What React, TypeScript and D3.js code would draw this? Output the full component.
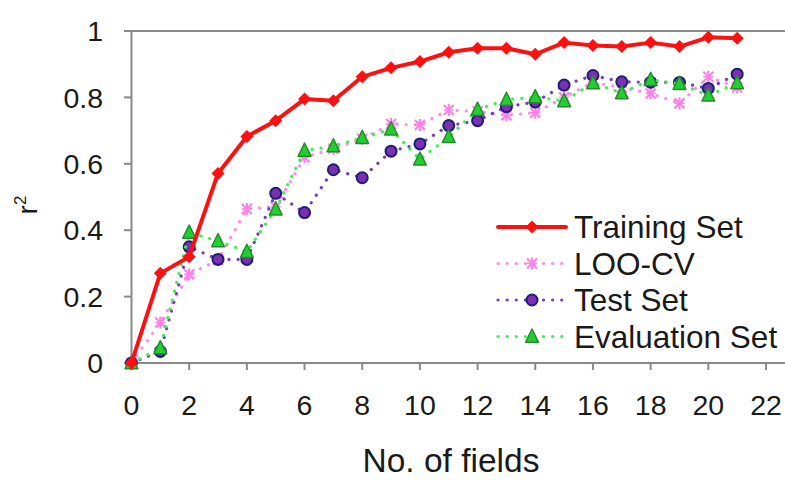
import React from "react";
import * as d3 from "d3";

const fields = d3.range(0, 22);
const training = [0, 0.27, 0.32, 0.571, 0.682, 0.73, 0.795, 0.79, 0.862, 0.889, 0.908, 0.936, 0.948, 0.948, 0.93, 0.965, 0.956, 0.953, 0.965, 0.953, 0.981, 0.978];
const loocv = [0, 0.122, 0.267, 0.31, 0.464, 0.47, 0.62, 0.645, 0.675, 0.72, 0.717, 0.762, 0.758, 0.746, 0.754, 0.8, 0.845, 0.83, 0.812, 0.782, 0.862, 0.83];
const testSet = [0, 0.035, 0.35, 0.312, 0.312, 0.511, 0.453, 0.582, 0.558, 0.638, 0.66, 0.715, 0.73, 0.772, 0.786, 0.837, 0.866, 0.847, 0.846, 0.845, 0.827, 0.87];
const evalSet = [0, 0.045, 0.393, 0.367, 0.335, 0.463, 0.64, 0.653, 0.678, 0.704, 0.613, 0.681, 0.763, 0.793, 0.801, 0.789, 0.843, 0.813, 0.853, 0.841, 0.806, 0.843];
const xTicks = d3.range(0, 23, 2);
const yTicks = [0, 0.2, 0.4, 0.6, 0.8, 1];
const legendLabels = ["Training Set", "LOO-CV", "Test Set", "Evaluation Set"];

const W = 785, H = 480;
const x = d3.scaleLinear().domain([0, 22]).range([131.5, 766]);
const y = d3.scaleLinear().domain([0, 1]).range([363, 31]);
const font = "'Liberation Sans', Arial, sans-serif";
const textCol = "#1a1a1a";
const axisCol = "#8a8a8a";

type Kind = "diamond" | "star" | "circle" | "triangle";
interface Series { name: string; values: number[]; color: string; width: number; dash: string | null; kind: Kind; }

const series: Series[] = [
  { name: legendLabels[1], values: loocv, color: "#ff8ce8", width: 3.2, dash: "0.1 9", kind: "star" },
  { name: legendLabels[2], values: testSet, color: "#7a3cc0", width: 3.2, dash: "0.1 9", kind: "circle" },
  { name: legendLabels[3], values: evalSet, color: "#3cf050", width: 3.2, dash: "0.1 9", kind: "triangle" },
  { name: legendLabels[0], values: training, color: "#ff1010", width: 4, dash: null, kind: "diamond" },
];

function Marker({ kind, cx, cy }: { kind: Kind; cx: number; cy: number }) {
  if (kind === "diamond") {
    const s = 6.5;
    return <path d={`M${cx},${cy - s}L${cx + s},${cy}L${cx},${cy + s}L${cx - s},${cy}Z`} fill="#ff1010" />;
  }
  if (kind === "circle") {
    return <circle cx={cx} cy={cy} r={5.5} fill="#7a30b0" stroke="#1e1e78" strokeWidth={2} />;
  }
  if (kind === "triangle") {
    const s = 7.5;
    return <path d={`M${cx},${cy - s}L${cx + s * 0.85},${cy + s * 0.75}L${cx - s * 0.85},${cy + s * 0.75}Z`} fill="#20d030" stroke="#2a8a2a" strokeWidth={1.5} strokeLinejoin="round" />;
  }
  const s = 5;
  return (
    <g stroke="#ff80e6" strokeWidth={2.2}>
      <line x1={cx - s} y1={cy - s} x2={cx + s} y2={cy + s} />
      <line x1={cx - s} y1={cy + s} x2={cx + s} y2={cy - s} />
      <line x1={cx} y1={cy - s - 1} x2={cx} y2={cy + s + 1} />
      <line x1={cx - s} y1={cy} x2={cx + s} y2={cy} strokeWidth={1.5} />
    </g>
  );
}

export default function App() {
  const line = d3.line<number>().x((_, i) => x(fields[i])).y((d) => y(d));
  const legendOrder = [series[3], series[0], series[1], series[2]];
  return (
    <svg width={W} height={H} style={{ display: "block", position: "absolute", left: 0, top: 0 }} fontFamily={font}>
      <rect width={W} height={H} fill="#fff" />
      {/* top border line */}
      <line x1={124} x2={W} y1={y(1)} y2={y(1)} stroke={axisCol} strokeWidth={2} />
      {/* y axis */}
      <line x1={x(0)} x2={x(0)} y1={y(1)} y2={y(0)} stroke={axisCol} strokeWidth={2} />
      {yTicks.map((t) => (
        <g key={t}>
          <line x1={124} x2={x(0)} y1={y(t)} y2={y(t)} stroke={axisCol} strokeWidth={2} />
          <text x={103} y={y(t)} dy="0.36em" textAnchor="end" fontSize={28.5} fill={textCol}>{d3.format("")(t)}</text>
        </g>
      ))}
      {/* x axis */}
      <line x1={124} x2={W} y1={y(0)} y2={y(0)} stroke={axisCol} strokeWidth={2} />
      {xTicks.map((t) => (
        <g key={t}>
          <line x1={x(t)} x2={x(t)} y1={y(0)} y2={y(0) + 7} stroke={axisCol} strokeWidth={2} />
          <text x={x(t)} y={415} textAnchor="middle" fontSize={28.5} fill={textCol}>{t}</text>
        </g>
      ))}
      <text x={451} y={472} textAnchor="middle" fontSize={33.5} fill={textCol}>No. of fields</text>
      <text transform="translate(37,205) rotate(-90)" textAnchor="middle" fontSize={28} fill={textCol}>
        r<tspan fontSize={17} dy={-11}>2</tspan>
      </text>
      {series.map((s) => (
        <g key={s.name}>
          <path d={line(s.values) || ""} fill="none" stroke={s.color} strokeWidth={s.width}
            strokeDasharray={s.dash || undefined} strokeLinecap="round" strokeLinejoin="round" />
          {s.values.map((v, i) => <Marker key={i} kind={s.kind} cx={x(fields[i])} cy={y(v)} />)}
        </g>
      ))}
      {/* legend */}
      {legendOrder.map((s, i) => {
        const ly = 227 + i * 36.5;
        return (
          <g key={s.name}>
            <line x1={498} x2={566} y1={ly} y2={ly} stroke={s.color} strokeWidth={s.width}
              strokeDasharray={s.dash || undefined} strokeLinecap="round" />
            <Marker kind={s.kind} cx={532} cy={ly} />
            <text x={574} y={ly} dy="0.36em" fontSize={31.5} fill={textCol}>{s.name}</text>
          </g>
        );
      })}
    </svg>
  );
}
